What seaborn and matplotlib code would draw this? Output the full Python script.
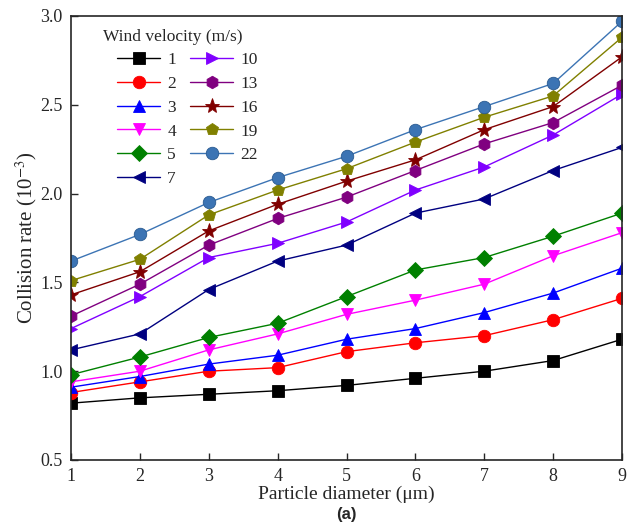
import matplotlib
matplotlib.use("Agg")
import matplotlib.pyplot as plt
import seaborn as sns
import pandas as pd

diameters = [1, 2, 3, 4, 5, 6, 7, 8, 9]
velocities = ["1", "2", "3", "4", "5", "7", "10", "13", "16", "19", "22"]
v1 = [0.82, 0.85, 0.87, 0.89, 0.92, 0.96, 1.00, 1.06, 1.18]
v2 = [0.88, 0.94, 1.00, 1.02, 1.11, 1.16, 1.20, 1.29, 1.41]
v3 = [0.91, 0.97, 1.04, 1.09, 1.18, 1.24, 1.33, 1.44, 1.58]
v4 = [0.94, 1.00, 1.12, 1.21, 1.32, 1.40, 1.49, 1.65, 1.78]
v5 = [0.98, 1.08, 1.19, 1.27, 1.42, 1.57, 1.64, 1.76, 1.89]
v7 = [1.12, 1.21, 1.46, 1.62, 1.71, 1.89, 1.97, 2.13, 2.26]
v10 = [1.24, 1.42, 1.64, 1.72, 1.84, 2.02, 2.15, 2.33, 2.56]
v13 = [1.31, 1.49, 1.71, 1.86, 1.98, 2.13, 2.28, 2.40, 2.61]
v16 = [1.43, 1.56, 1.79, 1.94, 2.07, 2.19, 2.36, 2.49, 2.77]
v19 = [1.51, 1.63, 1.88, 2.02, 2.14, 2.29, 2.43, 2.55, 2.88]
v22 = [1.62, 1.77, 1.95, 2.09, 2.21, 2.36, 2.49, 2.62, 2.97]
series = [v1, v2, v3, v4, v5, v7, v10, v13, v16, v19, v22]

colors = ["#000000", "#ff0000", "#0000ff", "#ff00ff", "#008000", "#000080",
          "#8000ff", "#800080", "#800000", "#808000", "#3c74b4"]
markers = ["s", "o", "^", "v", "D", "<", ">", "h", "*", "p", "o"]
msizes = [8, 9, 9, 9, 8, 9, 9, 9, 11, 9, 9]

rows = []
for v, vals in zip(velocities, series):
    for d, y in zip(diameters, vals):
        rows.append({"d": d, "rate": y, "v": v})
df = pd.DataFrame(rows)

sns.set_style("ticks")
plt.rcParams["font.family"] = ["Liberation Serif", "DejaVu Serif"]
plt.rcParams["mathtext.fontset"] = "stix"

W, H = 640, 529
fig = plt.figure(figsize=(W / 100, H / 100), dpi=100)
ax = fig.add_axes([71 / W, 1 - 460 / H, (622 - 71) / W, (460 - 16) / H])

for v, c, m, ms in zip(velocities, colors, markers, msizes):
    sub = df[df["v"] == v]
    sns.lineplot(data=sub, x="d", y="rate", ax=ax, color=c, marker=m,
                 markersize=ms, markeredgecolor=c if v != "22" else "#2a5a90",
                 markeredgewidth=0.6, linewidth=1.0, label=v)

ax.set_xlim(1, 9)
ax.set_ylim(0.5, 3.0)
ax.set_xticks(diameters)
ax.set_yticks([0.5, 1.0, 1.5, 2.0, 2.5, 3.0])
ax.set_yticklabels(["0.5", "1.0", "1.5", "2.0", "2.5", "3.0"])
ax.tick_params(direction="in", length=5, width=1, labelsize=13, pad=6)
for s in ax.spines.values():
    s.set_linewidth(1.2)
    s.set_visible(True)
ax.set_xlabel("Particle diameter (μm)", fontsize=14, labelpad=0)
ax.set_ylabel("Collision rate (10$^{-3}$)", fontsize=15, labelpad=1)

fig.text(103 / W, 1 - 37 / H, "Wind velocity (m/s)", fontsize=12.5,
         ha="left", va="center")
leg = ax.legend(ncol=2, frameon=False, loc="upper left",
                bbox_to_anchor=(117 / W, 1 - 52 / H),
                bbox_transform=fig.transFigure, borderaxespad=0, borderpad=0,
                fontsize=12.5, handlelength=2.5, columnspacing=0.8,
                labelspacing=0.44, handletextpad=0.4)

fig.text((71 + 622) / 2 / W, 1 - 514 / H, "(a)", fontsize=12,
         fontweight="bold", family=["Liberation Sans", "DejaVu Sans"],
         ha="center", va="center")

fig.savefig("out.png", dpi=100)
